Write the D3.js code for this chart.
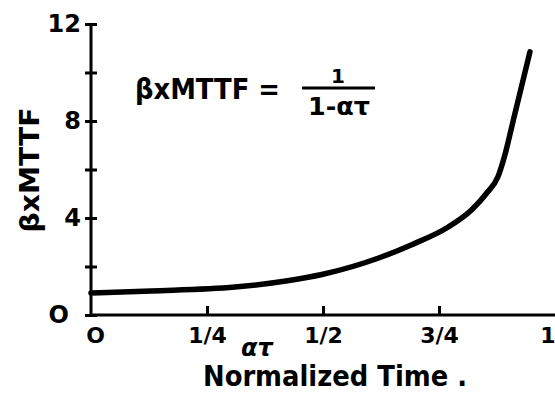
<!DOCTYPE html>
<html>
<head>
<meta charset="utf-8">
<script src="https://cdn.jsdelivr.net/npm/d3@7"></script>
<style>
  body { margin: 0; background: #fff; }
  svg text { font-family: "DejaVu Sans", sans-serif; font-weight: bold; fill: #000; }
</style>
</head>
<body>
<svg id="chart" width="555" height="394"></svg>
<script>
// Values
const alphaTau = [0, 0.13, 0.31, 0.42, 0.50, 0.62, 0.69, 0.77, 0.82, 0.853, 0.877, 0.892, 0.911, 0.946];
const mttf     = [0.91, 0.99, 1.15, 1.40, 1.68, 2.35, 2.89, 3.63, 4.33, 5.03, 5.70, 6.60, 8.10, 10.85];

const yTicks = [0, 2, 4, 6, 8, 10, 12];
const yLabels = { 0: "O", 4: "4", 8: "8", 12: "12" };
const xTicks = [0, 0.25, 0.5, 0.75, 1];
const xLabels = ["O", "1/4", "1/2", "3/4", "1"];

const width = 555;
const height = 394;

const svg = d3.select("#chart");

// Scales
const x = d3.scaleLinear().domain([0, 1]).range([91, 555]);
const y = d3.scaleLinear().domain([0, 12]).range([315, 24]);

// Y axis
const yAxis = svg.append("g")
  .attr("transform", `translate(${x(0)},0)`)
  .call(d3.axisLeft(y)
    .tickValues(yTicks)
    .tickSize(6)
    .tickPadding(10)
    .tickFormat(d => yLabels[d] || ""));

yAxis.select(".domain")
  .attr("d", `M0,${y(12)}V${y(0)}`)
  .attr("stroke", "#000")
  .attr("stroke-width", 3);
yAxis.selectAll(".tick line")
  .attr("x1", -6).attr("x2", 6)
  .attr("stroke", "#000")
  .attr("stroke-width", 3);
yAxis.selectAll(".tick text")
  .style("font-size", "24px")
  .attr("x", d => d === 0 ? -22 : -10);

// X axis
const xAxis = svg.append("g")
  .attr("transform", `translate(0,${y(0)})`)
  .call(d3.axisBottom(x)
    .tickValues(xTicks)
    .tickSize(0)
    .tickPadding(12)
    .tickFormat((d, i) => xLabels[i]));

xAxis.select(".domain")
  .attr("d", `M${x(0)},0H${x(1)}`)
  .attr("stroke", "#000")
  .attr("stroke-width", 3);
xAxis.selectAll(".tick line")
  .filter(d => d > 0 && d < 1)
  .attr("y1", 0).attr("y2", -9)
  .attr("stroke", "#000")
  .attr("stroke-width", 3);
xAxis.selectAll(".tick text")
  .style("font-size", "22px")
  .attr("text-anchor", d => d === 1 ? "end" : "middle")
  .attr("dx", d => d === 0 ? 4 : 0);

// Curve
const line = d3.line()
  .x((d, i) => x(alphaTau[i]))
  .y(d => y(d))
  .curve(d3.curveMonotoneX);

svg.append("path")
  .datum(mttf)
  .attr("d", line)
  .attr("fill", "none")
  .attr("stroke", "#000")
  .attr("stroke-width", 5.5)
  .attr("stroke-linecap", "round");

// Axis titles
svg.append("text")
  .attr("transform", "translate(39,170) rotate(-90)")
  .attr("text-anchor", "middle")
  .attr("textLength", 125)
  .attr("lengthAdjust", "spacingAndGlyphs")
  .style("font-size", "27px")
  .text("βxMTTF");

svg.append("text")
  .attr("x", 257).attr("y", 356)
  .attr("text-anchor", "middle")
  .style("font-size", "24px")
  .style("font-style", "italic")
  .text("ατ");

svg.append("text")
  .attr("x", 203).attr("y", 386)
  .attr("textLength", 264)
  .attr("lengthAdjust", "spacingAndGlyphs")
  .style("font-size", "28px")
  .text("Normalized Time .");

// Formula
svg.append("text")
  .attr("x", 135).attr("y", 99)
  .attr("textLength", 145)
  .attr("lengthAdjust", "spacingAndGlyphs")
  .style("font-size", "28px")
  .text("βxMTTF =");

svg.append("line")
  .attr("x1", 302).attr("x2", 375)
  .attr("y1", 88).attr("y2", 88)
  .attr("stroke", "#000")
  .attr("stroke-width", 3);

svg.append("text")
  .attr("x", 338).attr("y", 83)
  .attr("text-anchor", "middle")
  .style("font-size", "20px")
  .text("1");

svg.append("text")
  .attr("x", 308).attr("y", 115)
  .attr("textLength", 62)
  .attr("lengthAdjust", "spacingAndGlyphs")
  .style("font-size", "24px")
  .text("1-ατ");
</script>
</body>
</html>
